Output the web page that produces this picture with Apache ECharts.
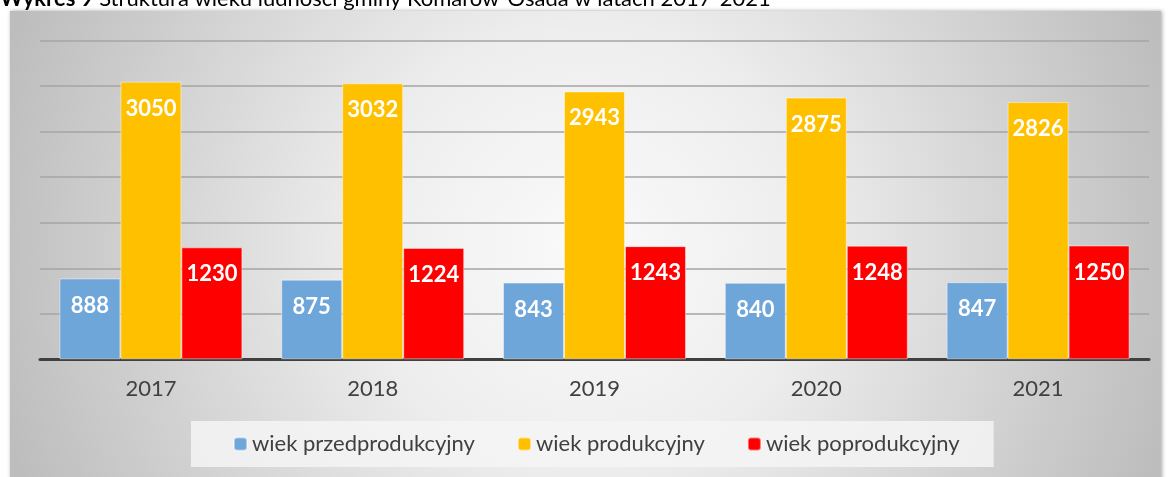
<!DOCTYPE html>
<html>
<head>
<meta charset="utf-8">
<script src="https://cdn.jsdelivr.net/npm/echarts@6/dist/echarts.min.js"></script>
<style>
  html, body { margin: 0; padding: 0; background: #fff; }
  #chart { width: 1168px; height: 477px; }
</style>
</head>
<body>
<div id="chart"></div>
<script>
// dane wykresu
const years = ['2017', '2018', '2019', '2020', '2021']
const przedprodukcyjny = [888, 875, 843, 840, 847]
const produkcyjny = [3050, 3032, 2943, 2875, 2826]
const poprodukcyjny = [1230, 1224, 1243, 1248, 1250]
const seriesNames = ['wiek przedprodukcyjny', 'wiek produkcyjny', 'wiek poprodukcyjny']
const seriesColors = ['#6fa6d9', '#ffc000', '#ff0000']

const FONT = 'Lato'

const chart = echarts.init(document.getElementById('chart'))

const makeSeries = (name, data, color) => ({
  name,
  type: 'bar',
  data,
  barGap: '0%',
  barCategoryGap: '17.5%',
  itemStyle: {
    color,
    borderColor: 'rgba(255,255,255,0.45)',
    borderWidth: 1
  },
  label: {
    show: true,
    position: 'insideTop',
    distance: 16,
    color: '#fff',
    fontFamily: FONT,
    fontWeight: 'bold',
    fontSize: 22
  }
})

const option = {
  animation: false,
  backgroundColor: '#fff',
  title: {
    text: '{b|Wykres 9} Struktura wieku ludności gminy Komarów-Osada w latach 2017-2021',
    left: 0,
    top: -12,
    padding: 0,
    textStyle: {
      fontFamily: FONT,
      fontSize: 22,
      fontWeight: 'normal',
      color: '#000',
      rich: {
        b: { fontFamily: FONT, fontSize: 22, fontWeight: 'bold', color: '#000' }
      }
    }
  },
  graphic: {
    elements: [{
      type: 'rect',
      z: -10,
      shape: { x: 10, y: 11, width: 1151, height: 470 },
      style: {
        fill: {
          type: 'radial', x: 0.5, y: 0.5, r: 1.3,
          colorStops: [
            { offset: 0, color: '#fafafa' },
            { offset: 0.35, color: '#eeeeee' },
            { offset: 1, color: '#bdbdbd' }
          ]
        },
        shadowColor: 'rgba(0,0,0,0.35)',
        shadowBlur: 4,
        shadowOffsetX: 1,
        shadowOffsetY: 0
      }
    }]
  },
  grid: {
    left: 40,
    right: 19,
    top: 40.7,
    bottom: 117.7,
    containLabel: false
  },
  legend: {
    data: seriesNames,
    left: 191,
    top: 421,
    padding: [12, 34, 12, 42],
    itemGap: 42,
    itemWidth: 13,
    itemHeight: 13,
    backgroundColor: 'rgba(245,245,245,0.85)',
    textStyle: {
      fontFamily: FONT,
      fontSize: 22,
      color: '#404040'
    }
  },
  xAxis: {
    type: 'category',
    data: years,
    axisLine: { lineStyle: { color: '#404040', width: 3 } },
    axisTick: { show: false },
    axisLabel: {
      margin: 19,
      fontFamily: FONT,
      fontSize: 22,
      color: '#404040'
    }
  },
  yAxis: {
    type: 'value',
    min: 0,
    max: 3500,
    interval: 500,
    axisLabel: { show: false },
    axisLine: { show: false },
    axisTick: { show: false },
    splitLine: { lineStyle: { color: '#a4a4a4', width: 1.5 } }
  },
  series: [
    makeSeries(seriesNames[0], przedprodukcyjny, seriesColors[0]),
    makeSeries(seriesNames[1], produkcyjny, seriesColors[1]),
    makeSeries(seriesNames[2], poprodukcyjny, seriesColors[2])
  ]
}

chart.setOption(option)
</script>
</body>
</html>
